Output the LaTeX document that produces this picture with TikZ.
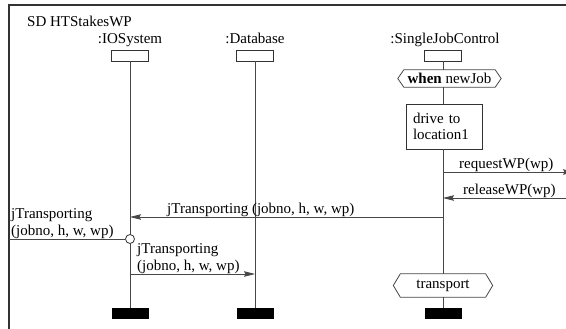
\documentclass[tikz,border=0pt]{standalone}
\usepackage{fontspec}
\setmainfont{Liberation Serif}
\usetikzlibrary{arrows.meta,calc}
\begin{document}
\begin{tikzpicture}[x=1pt,y=1pt,
  every node/.style={font=\fontsize{15}{16.5}\selectfont, inner sep=0pt},
  frameline/.style={draw=black!80, line width=1.3pt},
  life/.style={draw=black!72, line width=0.8pt},
  msg/.style={draw=black!72, line width=0.8pt, -{Stealth[length=11pt,width=5.5pt,inset=1.5pt]}},
  headbox/.style={draw=black!80, line width=0.8pt, minimum width=37pt, minimum height=11pt, fill=white},
  tailbox/.style={fill=black, minimum width=37pt, minimum height=11pt},
  lbl/.style={anchor=base west},
  lbl2/.style={anchor=base west, align=left}
]
\useasboundingbox (0,0) rectangle (566,-329);

% frame
\coordinate (fbl) at (9,-340);
\coordinate (ftl) at (9,-5);
\coordinate (ftr) at (575,-5);
\draw[frameline] (fbl) -- (ftl) -- (ftr);
\node[lbl] (title) at (27,-27) {SD HTStakesWP};

% lifeline heads
\node[anchor=base] (iol) at (130,-44) {:IOSystem};
\node[anchor=base] (dbl) at (255,-44) {:Database};
\node[anchor=base] (sjcl) at (445,-44) {:SingleJobControl};
\node[headbox] (ioh) at (130,-55.5) {};
\node[headbox] (dbh) at (255,-55.5) {};
\node[headbox] (sjch) at (443,-55.5) {};
\node[tailbox] (ioe) at (130,-313.5) {};
\node[tailbox] (dbe) at (255,-313.5) {};
\node[tailbox] (sjce) at (443,-313.5) {};

% states on SingleJobControl
\node[minimum width=91pt, minimum height=17pt] (when) at (449.5,-78.5) {\textbf{when} newJob};
\draw[life] (when.north west) -- (when.north east) -- ($(when.east)+(6,0)$) -- (when.south east)
  -- (when.south west) -- ($(when.west)+(-6,0)$) -- cycle;
\node[draw=black!80, line width=0.8pt, text width=62pt, inner xsep=7pt, align=left, minimum height=45pt] (drive) at (444,-126.5) {drive to\\location1};
\node[minimum width=85pt, minimum height=23pt] (trans) at (443,-285.5) {transport};
\draw[life] (trans.north west) -- (trans.north east) -- ($(trans.east)+(7,0)$) -- (trans.south east)
  -- (trans.south west) -- ($(trans.west)+(-7,0)$) -- cycle;

% lifelines
\draw[life] (ioh.south) -- (ioe.north);
\draw[life] (dbh.south) -- (dbe.north);
\draw[life] (sjch.south) -- (when.north -| sjch.south);
\draw[life] (when.south -| sjch.south) -- (drive.north -| sjch.south);
\draw[life] (drive.south -| sjch.south) -- (trans.north -| sjch.south);
\draw[life] (trans.south -| sjch.south) -- (sjce.north);

% messages
\coordinate (rq1) at (443,-172);
\coordinate (rq2) at (574,-172);
\draw[msg] (rq1) -- (rq2);
\node[lbl] (rql) at (459,-168) {requestWP(wp)};

\coordinate (rl1) at (575,-198);
\coordinate (rl2) at (443,-198);
\draw[msg] (rl1) -- (rl2);
\node[lbl] (rll) at (463,-194) {releaseWP(wp)};

\coordinate (jt1) at (443,-217);
\coordinate (jt2) at (130,-217);
\draw[msg] (jt1) -- (jt2);
\node[lbl] (jtl) at (167,-213) {jTransporting (jobno, h, w, wp)};

\node[circle, draw=black!80, line width=0.8pt, fill=white, minimum size=9pt] (circ) at (130,-239) {};
\coordinate (lf) at (9,-239);
\draw[life] (lf) -- (circ.west);
\node[lbl2] (lfl) at (11,-235) {jTransporting\\(jobno, h, w, wp)};

\coordinate (j21) at (130,-274);
\coordinate (j22) at (255,-274);
\draw[msg] (j21) -- (j22);
\node[lbl2] (j2l) at (137,-270) {jTransporting\\(jobno, h, w, wp)};
\end{tikzpicture}
\end{document}
